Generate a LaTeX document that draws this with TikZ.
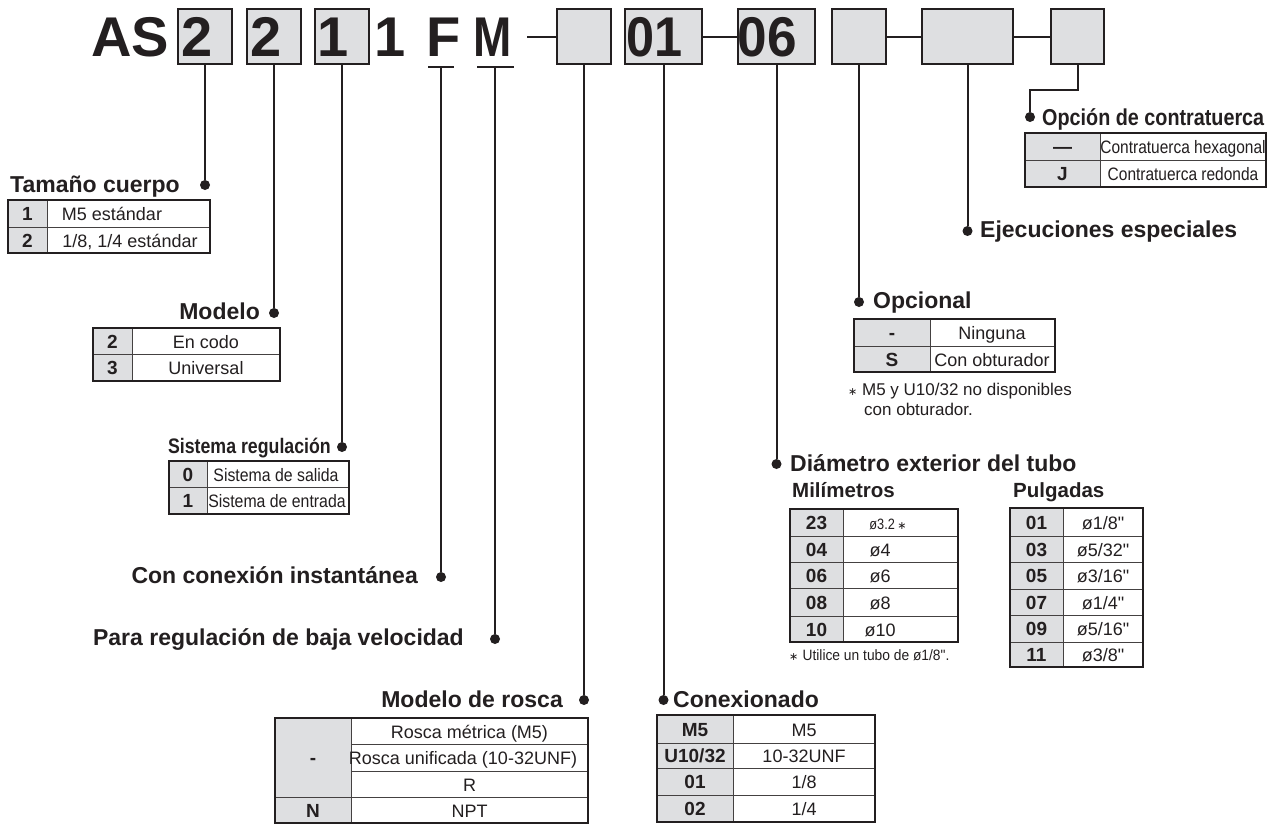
\documentclass[tikz,border=0pt]{standalone}
\usepackage{fontspec}
\setmainfont{Liberation Sans}[Ligatures=TeXOff]
\newfontfamily\dejavu{DejaVu Sans}
\definecolor{ink}{HTML}{231F20}
\definecolor{keygray}{HTML}{DEDFE1}
\newcommand\fs[1]{\fontsize{#1}{#1}\selectfont}
\newcommand\cnd[2]{\scalebox{#1}[1]{#2}}
\newcommand\astk{{\dejavu\fontsize{11}{11}\selectfont ∗}}
\tikzset{
  ttl/.style={font=\fs{23}\bfseries, text=ink, inner sep=0pt},
  sttl/.style={font=\fs{20.5}\bfseries, text=ink, inner sep=0pt, anchor=base west},
  hbox/.style={draw=ink, line width=2pt, fill=keygray, inner sep=0pt, minimum height=55pt},
  htext/.style={font=\fs{56}\bfseries, text=ink, inner sep=0pt, anchor=base west},
  leader/.style={draw=ink, line width=2pt},
  ldot/.style={circle, fill=ink, inner sep=0pt, minimum size=10pt},
  kt/.style={font=\fs{19}\bfseries, text=ink, inner sep=0pt, anchor=base},
  vt/.style={font=\fs{18}, text=ink, inner sep=0pt, anchor=base},
  cellline/.style={draw=ink!85, line width=0.8pt},
  tabout/.style={draw=ink, line width=1.3pt},
  topl/.style={draw=ink, line width=2.4pt},
  note/.style={font=\fs{17}, text=ink, inner sep=0pt, anchor=base west},
}
% name, x0, xd, x1, y0, y1, key, value, value x
\newcommand\trow[9]{%
  \fill[keygray] (#2,#5) rectangle (#3,#6);
  \draw[cellline] (#2,#5) rectangle (#4,#6);
  \draw[cellline] (#3,#5) -- (#3,#6);
  \node[kt] (#1k) at ({(#2+#3)/2},{(#5+#6)/2+7}) {#7};
  \node[vt] (#1v) at ({#9},{(#5+#6)/2+7}) {#8};
}
\newcommand\tframe[4]{%
  \draw[tabout] (#1,#2) rectangle (#3,#4);
  \draw[topl] (#1,#2) -- (#3,#2);
}
\begin{document}
\begin{tikzpicture}[x=1pt,y=-1pt]
\useasboundingbox (0,0) rectangle (1281,825);
\fill[white] (0,0) rectangle (1281,825);

% ---------- header ----------
\node[htext] (tAS) at (91,56) {AS};
\node[hbox, minimum width=54.5pt] (b1) at (205,36.5) {};
\node[hbox, minimum width=54pt] (b2) at (274,36.5) {};
\node[hbox, minimum width=54pt] (b3) at (342,36.5) {};
\node[hbox, minimum width=54pt] (b4) at (584,36.5) {};
\node[hbox, minimum width=77pt] (b5) at (663.5,36.5) {};
\node[hbox, minimum width=77pt] (b6) at (776.5,36.5) {};
\node[hbox, minimum width=54pt] (b7) at (859,36.5) {};
\node[hbox, minimum width=91pt] (b8) at (967.5,36.5) {};
\node[hbox, minimum width=53pt] (b9) at (1077.5,36.5) {};
\node[htext] (t1) at (181,56) {2};
\node[htext] (t2) at (250,56) {2};
\node[htext] (t3) at (317,56) {1};
\node[htext] (t4) at (374,56) {1};
\node[htext] (tF) at (426,56) {F};
\node[htext] (tM) at (473,56) {\cnd{0.82}{M}};
\node[htext] (t5) at (626,56) {\cnd{0.9}{01}};
\node[htext] (t6) at (737.5,56) {\cnd{0.95}{06}};

\coordinate (dashL) at (527,36.5);
\draw[leader] (dashL) -- (b4.west);
\draw[leader] (b5.east) -- (b6.west);
\draw[leader] (b7.east) -- (b8.west);
\draw[leader] (b8.east) -- (b9.west);

\coordinate (uF) at (441,67);
\coordinate (uM) at (495,67);
\draw[leader] ([xshift=-13pt]uF) -- ([xshift=13pt]uF);
\draw[leader] ([xshift=-18pt]uM) -- ([xshift=19pt]uM);

% ---------- dots ----------
\node[ldot] (d1) at (b1.south |- 0,185) {};
\node[ldot] (d2) at (b2.south |- 0,313) {};
\node[ldot] (d3) at (b3.south |- 0,447) {};
\node[ldot] (dF) at (uF |- 0,577) {};
\node[ldot] (dM) at (uM |- 0,639) {};
\node[ldot] (d4) at (b4.south |- 0,700) {};
\node[ldot] (d5) at (b5.south |- 0,700) {};
\node[ldot] (d6) at (b6.south |- 0,464) {};
\node[ldot] (d7) at (b7.south |- 0,302) {};
\node[ldot] (d8) at (b8.south |- 0,231) {};
\node[ldot] (d9) at (1030,117) {};

\draw[leader] (b1.south) -- (d1);
\draw[leader] (b2.south) -- (d2);
\draw[leader] (b3.south) -- (d3);
\draw[leader] (uF) -- (dF);
\draw[leader] (uM) -- (dM);
\draw[leader] (b4.south) -- (d4);
\draw[leader] (b5.south) -- (d5);
\draw[leader] (b6.south) -- (d6);
\draw[leader] (b7.south) -- (d7);
\draw[leader] (b8.south) -- (d8);
\draw[leader] (b9.south) -- (b9.south |- 0,90) -- (d9 |- 0,90) -- (d9);

% ---------- titles ----------
\node[ttl, anchor=base west] (h1) at (10,192) {Tamaño cuerpo};
\node[ttl, anchor=base east] (h2) at (260,319) {Modelo};
\node[ttl, anchor=base east, font=\fs{21}\bfseries] (h3) at (331,453) {\cnd{0.845}{Sistema regulación}};
\node[ttl, anchor=base east] (hF) at (418,583) {Con conexión instantánea};
\node[ttl, anchor=base east] (hM) at (464,645) {Para regulación de baja velocidad};
\node[ttl, anchor=base east] (h4) at (563,707) {Modelo de rosca};
\node[ttl, anchor=base west] (h5) at (673,707) {Conexionado};
\node[ttl, anchor=base west] (h6) at (790,471) {Diámetro exterior del tubo};
\node[sttl] (h6a) at (792,497) {Milímetros};
\node[sttl] (h6b) at (1013,497) {Pulgadas};
\node[ttl, anchor=base west] (h7) at (873,308) {Opcional};
\node[ttl, anchor=base west] (h8) at (980,237) {Ejecuciones especiales};
\node[ttl, anchor=base west] (h9) at (1042,125) {\cnd{0.86}{Opción de contratuerca}};

% ---------- Tamaño cuerpo ----------
\trow{ta1}{8}{47}{210}{200}{227}{1}{M5 estándar}{112}
\trow{ta2}{8}{47}{210}{227}{253}{2}{1/8, 1/4 estándar}{130}
\tframe{8}{200}{210}{253}

% ---------- Modelo ----------
\trow{mo1}{93}{132}{280}{328}{354}{2}{En codo}{206}
\trow{mo2}{93}{132}{280}{354}{381}{3}{Universal}{206}
\tframe{93}{328}{280}{381}

% ---------- Sistema regulación ----------
\trow{sr1}{169}{207}{349}{461}{487}{0}{\cnd{0.88}{Sistema de salida}}{276}
\trow{sr2}{169}{207}{349}{487}{514}{1}{\cnd{0.88}{Sistema de entrada}}{277}
\tframe{169}{461}{349}{514}

% ---------- Modelo de rosca ----------
\fill[keygray] (275,718) rectangle (351,823);
\draw[cellline] (275,718) rectangle (351,797);
\draw[cellline] (275,797) rectangle (351,823);
\draw[cellline] (351,718) rectangle (588,744);
\draw[cellline] (351,744) rectangle (588,771);
\draw[cellline] (351,771) rectangle (588,797);
\draw[cellline] (351,797) rectangle (588,823);
\node[kt] (rsk1) at (313,764) {-};
\node[kt] (rsk2) at (313,817) {N};
\node[vt] (rsv1) at (469.5,738) {Rosca métrica (M5)};
\node[vt] (rsv2) at (463,764.5) {Rosca unificada (10-32UNF)};
\node[vt] (rsv3) at (469.5,791) {R};
\node[vt] (rsv4) at (469.5,817) {NPT};
\tframe{275}{718}{588}{823}

% ---------- Conexionado ----------
\trow{cx1}{657}{733}{875}{715}{743}{M5}{M5}{804}
\trow{cx2}{657}{733}{875}{743}{768}{U10/32}{10-32UNF}{804}
\trow{cx3}{657}{733}{875}{768}{795}{01}{1/8}{804}
\trow{cx4}{657}{733}{875}{795}{822}{02}{1/4}{804}
\tframe{657}{715}{875}{822}

% ---------- Milímetros ----------
\trow{mm1}{790}{843}{958}{509}{536}{23}{{\fs{15}\cnd{0.85}{ø3.2}\,\astk}}{888}
\trow{mm2}{790}{843}{958}{536}{562}{04}{ø4}{880}
\trow{mm3}{790}{843}{958}{562}{588}{06}{ø6}{880}
\trow{mm4}{790}{843}{958}{588}{616}{08}{ø8}{880}
\trow{mm5}{790}{843}{958}{616}{642}{10}{ø10}{880}
\tframe{790}{509}{958}{642}
\node[note, font=\fs{15}] (nmm) at (789,660) {\astk\ \cnd{0.92}{Utilice un tubo de ø1/8".}};

% ---------- Pulgadas ----------
\trow{in1}{1010}{1063}{1143}{508}{536}{01}{ø1/8"}{1103}
\trow{in2}{1010}{1063}{1143}{536}{562}{03}{ø5/32"}{1103}
\trow{in3}{1010}{1063}{1143}{562}{589}{05}{ø3/16"}{1103}
\trow{in4}{1010}{1063}{1143}{589}{615}{07}{ø1/4"}{1103}
\trow{in5}{1010}{1063}{1143}{615}{642}{09}{ø5/16"}{1103}
\trow{in6}{1010}{1063}{1143}{642}{667}{11}{ø3/8"}{1103}
\tframe{1010}{508}{1143}{667}

% ---------- Opcional ----------
\trow{op1}{854}{930}{1055}{319}{346}{-}{Ninguna}{992}
\trow{op2}{854}{930}{1055}{346}{372}{S}{Con obturador}{992}
\tframe{854}{319}{1055}{372}
\node[note] (nop1) at (848,395) {\astk\ M5 y U10/32 no disponibles};
\node[note] (nop2) at (864,415) {con obturador.};

% ---------- Contratuerca ----------
\trow{ct1}{1025}{1100}{1266}{133}{160}{—}{\cnd{0.86}{Contratuerca hexagonal}}{1183}
\trow{ct2}{1025}{1100}{1266}{160}{187}{J}{\cnd{0.86}{Contratuerca redonda}}{1183}
\tframe{1025}{133}{1266}{187}
\end{tikzpicture}
\end{document}
